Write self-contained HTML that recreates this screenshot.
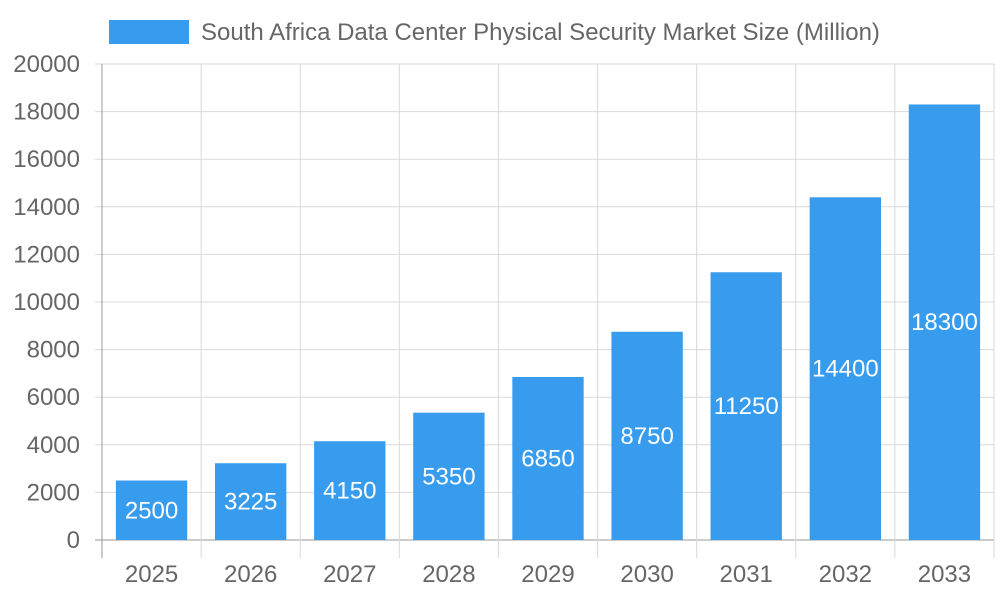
<!DOCTYPE html>
<html><head><meta charset="utf-8"><style>
html,body{margin:0;padding:0;background:#fff;}
svg{display:block;font-family:"Liberation Sans",sans-serif;}
</style></head><body>
<svg id="chart" width="1000" height="600">
<g>
<rect x="109" y="20" width="80" height="24" fill="#389cee"/>
<text x="201" y="40" font-size="24" fill="#666">South Africa Data Center Physical Security Market Size (Million)</text>
</g>
<g id="grid"></g><g id="bars"></g><g id="labels"></g>
</svg>
<script>
const categories=["2025","2026","2027","2028","2029","2030","2031","2032","2033"];
const values=[2500,3225,4150,5350,6850,8750,11250,14400,18300];
const yTicks=[0,2000,4000,6000,8000,10000,12000,14000,16000,18000,20000];
const L=102,R=994,T=64,B=540,yMax=20000;
const cw=(R-L)/categories.length;
const y=v=>B-(v/yMax)*(B-T);
const x=i=>L+cw*i;
const NS="http://www.w3.org/2000/svg";
function mk(tag,attrs,parent,txt){const e=document.createElementNS(NS,tag);for(const k in attrs)e.setAttribute(k,attrs[k]);if(txt!==undefined)e.textContent=txt;parent.appendChild(e);return e;}
const g=document.getElementById('grid'),gb=document.getElementById('bars'),gl=document.getElementById('labels');
yTicks.forEach(t=>{
 const ln=mk('line',{x1:L-7,x2:R,y1:y(t),y2:y(t),stroke:t===0?'#999':'#d9d9d9','stroke-width':1},g);
 
 
 const tx=mk('text',{x:80,y:y(t)+8,'text-anchor':'end','font-size':24,fill:'#666'},g,String(t));
 
 
});
for(let i=0;i<=categories.length;i++){
 const ln=mk('line',{x1:x(i),x2:x(i),y1:T,y2:B+18,stroke:i===0?'#999':'#d9d9d9','stroke-width':1},g);
 
 
}
categories.forEach((c,i)=>{
 const bw=cw*0.72,cx=x(i)+cw/2,v=values[i];
 const r=mk('rect',{x:cx-bw/2,y:y(v),width:bw,height:B-y(v),fill:'#389cee'},gb);
 
 
 const vt=mk('text',{x:cx,y:(y(v)+B)/2+8,'text-anchor':'middle','font-size':24,fill:'#fff'},gl,String(v));
 
 
 const xt=mk('text',{x:cx,y:582,'text-anchor':'middle','font-size':24,fill:'#666'},gl,c);
 
 
});
</script>
</body></html>
